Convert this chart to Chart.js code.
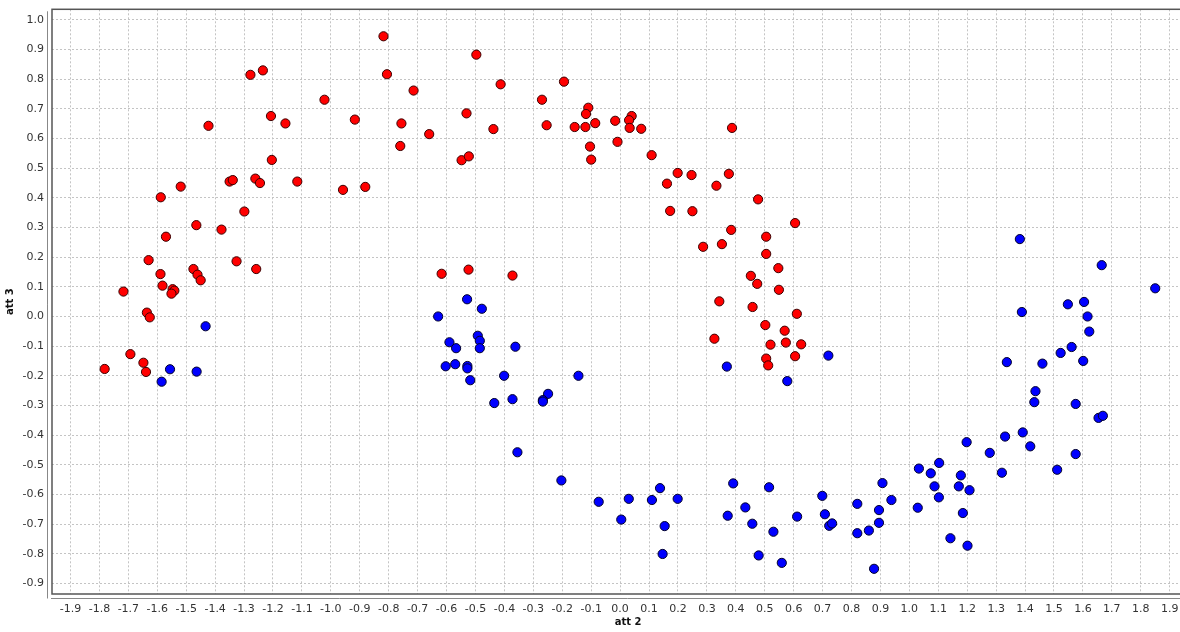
<!DOCTYPE html>
<html>
<head>
<meta charset="utf-8">
<title>att2 vs att3</title>
<script src="https://cdn.jsdelivr.net/npm/chart.js@4.4.1/dist/chart.umd.min.js"></script>
<style>
    html, body { margin: 0; padding: 0; background: #fff; overflow: hidden; }
    #contenedor { width: 1210px; height: 632px; }
</style>
</head>
<body>
<div id="contenedor"><canvas id="grafico" width="1210" height="632"></canvas></div>
<script>
// clase roja (att2, att3)
const rojoX = [-1.278, -1.235, -1.423, -1.207, -1.157, -1.204, -1.519, -1.588, -1.350, -1.339,
    -1.261, -1.245, -1.116, -1.299, -1.465, -1.378, -1.570, -1.630, -1.326, -1.258,
    -1.475, -1.589, -1.461, -1.450, -1.582, -1.717, -1.547, -1.541, -1.551, -1.636,
    -1.626, -1.693, -1.648, -1.782, -1.639, -0.818, -0.497, -0.806, -0.413, -0.194,
    -0.714, -1.022, -0.270, -0.917, -0.756, -0.531, -0.660, -0.438, -0.254, -0.157,
    -0.760, -0.548, -0.523, -0.958, -0.881, -0.617, -0.524, -0.372, -0.110, -0.118,
    -0.120, -0.086, -0.017, 0.040, 0.031, 0.033, 0.073, 0.387, -0.104, -0.009,
    -0.100, 0.109, 0.199, 0.247, 0.376, 0.162, 0.333, 0.477, 0.173, 0.250,
    0.605, 0.384, 0.505, 0.287, 0.352, 0.505, 0.547, 0.452, 0.474, 0.549,
    0.343, 0.458, 0.611, 0.502, 0.569, 0.326, 0.520, 0.573, 0.626, 0.505,
    0.605, 0.512];
const rojoY = [0.815, 0.830, 0.643, 0.676, 0.651, 0.528, 0.438, 0.402, 0.455, 0.460,
    0.465, 0.450, 0.455, 0.354, 0.308, 0.293, 0.269, 0.190, 0.186, 0.160,
    0.160, 0.143, 0.141, 0.122, 0.104, 0.084, 0.092, 0.087, 0.077, 0.013,
    -0.003, -0.127, -0.156, -0.177, -0.187, 0.945, 0.883, 0.817, 0.783, 0.792,
    0.762, 0.731, 0.731, 0.664, 0.651, 0.685, 0.615, 0.632, 0.645, 0.639,
    0.575, 0.527, 0.540, 0.427, 0.437, 0.144, 0.158, 0.138, 0.704, 0.683,
    0.639, 0.652, 0.660, 0.676, 0.662, 0.636, 0.633, 0.636, 0.573, 0.589,
    0.529, 0.544, 0.484, 0.477, 0.481, 0.448, 0.441, 0.395, 0.356, 0.355,
    0.315, 0.292, 0.269, 0.235, 0.244, 0.211, 0.163, 0.137, 0.110, 0.090,
    0.051, 0.032, 0.009, -0.029, -0.048, -0.075, -0.095, -0.088, -0.094, -0.142,
    -0.134, -0.165];

// clase azul (att2, att3)
const azulX = [-1.433, -1.556, -1.464, -1.585, -0.529, -0.478, -0.629, -0.492, -0.485, -0.590,
    -0.567, -0.485, -0.362, -0.603, -0.570, -0.528, -0.528, -0.518, -0.401, -0.144,
    -0.249, -0.267, -0.267, -0.372, -0.435, -0.355, -0.203, 0.720, 0.369, 0.578,
    -0.074, 0.030, 0.004, 0.110, 0.138, 0.199, 0.154, 0.147, 0.391, 0.515,
    0.433, 0.372, 0.457, 0.530, 0.479, 0.559, 0.612, 0.699, 0.708, 0.723,
    0.733, 0.820, 0.820, 0.860, 0.895, 0.895, 0.907, 0.938, 0.878, 1.033,
    1.029, 1.074, 1.103, 1.087, 1.102, 1.142, 1.178, 1.171, 1.208, 1.185,
    1.198, 1.201, 1.278, 1.320, 1.331, 1.392, 1.418, 1.432, 1.511, 1.575,
    1.575, 1.654, 1.669, 1.382, 1.665, 1.850, 1.389, 1.548, 1.604, 1.616,
    1.622, 1.561, 1.523, 1.601, 1.337, 1.460, 1.436];
const azulY = [-0.033, -0.178, -0.186, -0.220, 0.058, 0.026, 0.000, -0.065, -0.082, -0.087,
    -0.107, -0.107, -0.102, -0.168, -0.161, -0.167, -0.175, -0.215, -0.200, -0.200,
    -0.261, -0.282, -0.287, -0.279, -0.292, -0.458, -0.553, -0.132, -0.169, -0.218,
    -0.625, -0.615, -0.685, -0.619, -0.579, -0.615, -0.707, -0.801, -0.563, -0.576,
    -0.644, -0.672, -0.699, -0.726, -0.806, -0.831, -0.675, -0.605, -0.667, -0.706,
    -0.698, -0.632, -0.731, -0.722, -0.653, -0.696, -0.562, -0.619, -0.851, -0.513,
    -0.645, -0.529, -0.494, -0.573, -0.610, -0.748, -0.536, -0.573, -0.586, -0.663,
    -0.424, -0.773, -0.460, -0.527, -0.405, -0.391, -0.438, -0.289, -0.517, -0.464,
    -0.295, -0.342, -0.335, 0.261, 0.173, 0.095, 0.015, 0.041, 0.049, 0.000,
    -0.051, -0.103, -0.123, -0.150, -0.154, -0.159, -0.252];

const tituloX = 'att 2';
const tituloY = 'att 3';

function puntos(xs, ys) {
    return xs.map((x, i) => ({ x: x, y: ys[i] }));
}

function etiqueta(v) {
    const r = Math.round(v * 10) / 10;
    return (r === 0 ? 0 : r).toFixed(1);
}

// quita el relleno que Chart.js reserva para las etiquetas de los extremos
function sinRelleno(s) {
    s.paddingTop = 0;
    s.paddingBottom = 0;
    s.paddingLeft = 0;
    s.paddingRight = 0;
}

// marco del area de datos y ejes desplazados
const marco = {
    id: 'marco',
    afterDraw(chart) {
        const { ctx, chartArea: a } = chart;
        ctx.save();
        ctx.strokeStyle = '#555';
        ctx.lineWidth = 1.5;
        ctx.strokeRect(a.left, a.top, a.right - a.left, a.bottom - a.top);
        ctx.strokeStyle = '#888';
        ctx.lineWidth = 1;
        ctx.beginPath();
        ctx.moveTo(a.left - 4.5, a.top + 2);
        ctx.lineTo(a.left - 4.5, a.bottom + 4.5);
        ctx.moveTo(a.left - 1, a.bottom + 4.5);
        ctx.lineTo(a.right, a.bottom + 4.5);
        ctx.stroke();
        ctx.restore();
    }
};

const fuente = { family: 'DejaVu Sans', size: 11 };

new Chart(document.getElementById('grafico'), {
    type: 'scatter',
    data: {
        datasets: [
            {
                label: 'rojo',
                data: puntos(rojoX, rojoY),
                backgroundColor: '#ff0000',
                borderColor: '#3a0000',
                borderWidth: 1,
                pointRadius: 4.6
            },
            {
                label: 'azul',
                data: puntos(azulX, azulY),
                backgroundColor: '#0000ff',
                borderColor: '#00002a',
                borderWidth: 1,
                pointRadius: 4.6
            }
        ]
    },
    options: {
        responsive: false,
        animation: false,
        devicePixelRatio: 1,
        layout: { padding: { top: 9.3, right: 2, left: 0, bottom: 0 } },
        plugins: {
            legend: { display: false },
            tooltip: { enabled: false }
        },
        scales: {
            x: {
                type: 'linear',
                min: -1.964,
                max: 2.02,
                afterBuildTicks: s => { s.ticks = s.ticks.filter(t => t.value < 1.95); },
                afterFit: s => { s.height = 38; sinRelleno(s); },
                border: { display: false, dash: [2, 2] },
                grid: { color: '#c4c4c4', lineWidth: 1, drawTicks: false },
                ticks: {
                    stepSize: 0.1,
                    includeBounds: false,
                    autoSkip: false,
                    maxRotation: 0,
                    padding: 9,
                    color: '#333',
                    font: fuente,
                    callback: etiqueta
                },
                title: {
                    display: true,
                    text: tituloX,
                    color: '#111',
                    font: { family: 'DejaVu Sans', size: 10, weight: 'bold' },
                    padding: { top: 0, bottom: 4 }
                }
            },
            y: {
                type: 'linear',
                min: -0.936,
                max: 1.036,
                afterFit: s => { s.width = 52; sinRelleno(s); },
                border: { display: false, dash: [2, 2] },
                grid: { color: '#c4c4c4', lineWidth: 1, drawTicks: false },
                ticks: {
                    stepSize: 0.1,
                    includeBounds: false,
                    autoSkip: false,
                    padding: 8,
                    color: '#333',
                    font: fuente,
                    callback: etiqueta
                },
                title: {
                    display: true,
                    text: tituloY,
                    color: '#111',
                    font: { family: 'DejaVu Sans', size: 10, weight: 'bold' },
                    padding: { top: 4, bottom: 0 }
                }
            }
        }
    },
    plugins: [marco]
});
</script>
</body>
</html>
